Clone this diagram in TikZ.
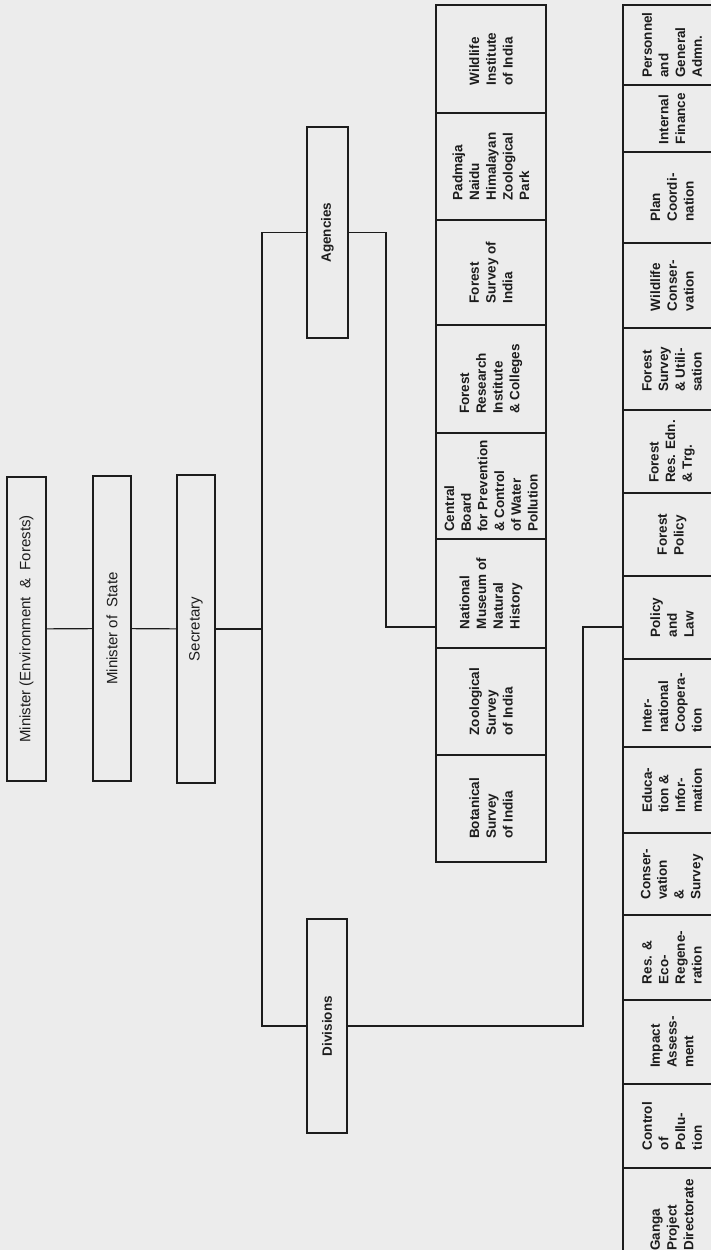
\documentclass[tikz,border=0pt]{standalone}
\usepackage{fontspec}
\setmainfont{Liberation Sans}
\definecolor{paper}{RGB}{236,236,236}
\definecolor{ink}{RGB}{28,28,28}
\newcommand{\orgbox}[7]{%
  \node[#1, minimum width={(#5-#3)*1pt}, minimum height={(#4-#2)*1pt}]
    (#7) at ({(#2+#4)/2},{(#3+#5)/2}) {#6};}
\tikzset{
  unitbox/.style={draw=ink, line width=1.2pt, rotate=90, inner sep=0pt,
    align=left, text=ink, font=\fontsize{13.5}{16.7}\selectfont\bfseries},
  headbox/.style={draw=ink, line width=1.2pt, rotate=90, inner sep=0pt,
    text=ink, font=\fontsize{15}{18}\selectfont},
  groupbox/.style={draw=ink, line width=1.2pt, rotate=90, inner sep=0pt,
    text=ink, font=\fontsize{13.5}{16}\selectfont\bfseries},
  conn/.style={draw=ink, line width=1.2pt}
}
\begin{document}
\begin{tikzpicture}[x=1pt,y=-1pt]
\fill[paper] (0,0) rectangle (711,1250);
\useasboundingbox (0,0) rectangle (711,1250);
\begin{scope}
\clip (0,0) rectangle (711,1250);
% hierarchy
\orgbox{headbox}{7}{477}{46}{781}{Minister (Environment \ \& \ Forests)}{min}
\orgbox{headbox}{93}{476}{131}{781}{Minister of \ State}{mos}
\orgbox{headbox}{177}{475}{215}{783}{Secretary}{sec}
\orgbox{groupbox}{307}{127}{348}{338}{Agencies}{ag}
\orgbox{groupbox}{307}{919}{347}{1133}{Divisions}{dv}
% agencies column
\orgbox{unitbox}{436}{5}{546}{113}{Wildlife\\Institute\\of India}{a1}
\orgbox{unitbox}{436}{113}{546}{220}{Padmaja\\Naidu\\Himalayan\\Zoological\\Park}{a2}
\orgbox{unitbox}{436}{220}{546}{325}{Forest\\Survey of\\India}{a3}
\orgbox{unitbox}{436}{325}{546}{433}{Forest\\Research\\Institute\\\& Colleges}{a4}
\orgbox{unitbox}{436}{433}{546}{539}{Central\\Board\\for Prevention\\\& Control\\of Water\\Pollution}{a5}
\orgbox{unitbox}{436}{539}{546}{648}{National\\Museum of\\Natural\\History}{a6}
\orgbox{unitbox}{436}{648}{546}{755}{Zoological\\Survey\\of India}{a7}
\orgbox{unitbox}{436}{755}{546}{862}{Botanical\\Survey\\of India}{a8}
% divisions column
\orgbox{unitbox}{623}{5}{721}{85}{Personnel\\and\\General\\Admn.}{d1}
\orgbox{unitbox}{623}{85}{721}{152}{Internal\\Finance}{d2}
\orgbox{unitbox}{623}{152}{721}{243}{Plan\\Coordi-\\nation}{d3}
\orgbox{unitbox}{623}{243}{721}{328}{Wildlife\\Conser-\\vation}{d4}
\orgbox{unitbox}{623}{328}{721}{410}{Forest\\Survey\\\& Utili-\\sation}{d5}
\orgbox{unitbox}{623}{410}{721}{493}{Forest\\Res. Edn.\\\& Trg.}{d6}
\orgbox{unitbox}{623}{493}{721}{576}{Forest\\Policy}{d7}
\orgbox{unitbox}{623}{576}{721}{659}{Policy\\and\\Law}{d8}
\orgbox{unitbox}{623}{659}{721}{747}{Inter-\\national\\Coopera-\\tion}{d9}
\orgbox{unitbox}{623}{747}{721}{833}{Educa-\\tion \&\\Infor-\\mation}{d10}
\orgbox{unitbox}{623}{833}{721}{915}{Conser-\\vation\\\&\\Survey}{d11}
\orgbox{unitbox}{623}{915}{721}{1000}{Res. \&\\Eco-\\Regene-\\ration}{d12}
\orgbox{unitbox}{623}{1000}{721}{1084}{Impact\\Assess-\\ment}{d13}
\orgbox{unitbox}{623}{1084}{721}{1168}{Control\\of\\Pollu-\\tion}{d14}
\orgbox{unitbox}{623}{1168}{721}{1262}{Ganga\\Project\\Directorate}{d15}
% connectors
\coordinate (sp) at (262,629);
\coordinate (aj) at (386,627);
\coordinate (dj) at (583,627);
\draw[conn] (min) -- (mos);
\draw[conn] (mos) -- (sec);
\draw[conn] (sec) -- (sec -| sp);
\draw[conn] (ag) -| (sp) |- (dv);
\draw[conn] (ag) -| (aj) -- (aj -| a6.north);
\draw[conn] (dv) -| (dj) -- (dj -| d8.north);
\end{scope}
\end{tikzpicture}
\end{document}
